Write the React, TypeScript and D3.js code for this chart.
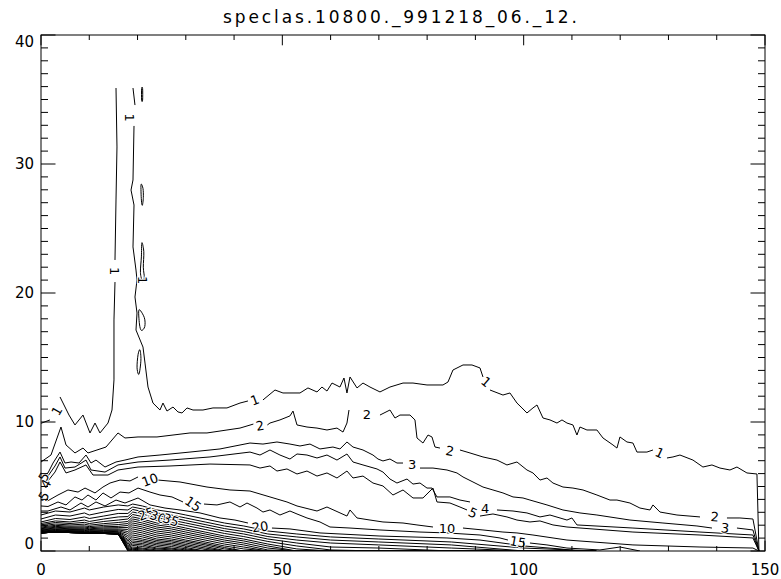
import React from 'react';
import * as d3 from 'd3';

type P = [number, number] | null;

const TITLE = 'speclas.10800._991218_06._12.';
const X_TICKS = [0, 50, 100, 150];
const Y_TICKS = [0, 10, 20, 30, 40];
const X_MINOR = d3.range(0, 151, 10);
const Y_MINOR = d3.range(0, 41, 1);

// ---- contour level 1 ----
const LEVEL1_LEFT: P[] = [
  [0, 9.9], [1.86, 10.16], null, [3.94, 11.94], [5.8, 10.54], [7.04, 9.77], [8.7, 10.54], [10.15, 9.15],
  [11.19, 9.92], [12.22, 9.15], [13.88, 9.92], [14.71, 10.93], [15.12, 13.26], [15.12, 17.91], [15.33, 20.85], null,
  [15.33, 22.56], [15.54, 27.21], [15.74, 31.32], [15.54, 35.89],
];
const LEVEL1_RIGHT: P[] = [
  [19.06, 35.89], [19.47, 34.57], null, [19.27, 32.95], [19.06, 28.76], [18.65, 27.98], [19.27, 26.82], [19.06, 23.57],
  [19.68, 21.78], [19.89, 21.01], [19.47, 19.69], [19.89, 18.45], [19.68, 17.13], [21.13, 15.81], [21.55, 14.57],
  [22.17, 12.71], [23.2, 11.47], [24.65, 10.93], [25.27, 11.47], [26.1, 10.85], [27.35, 11.16], [28.38, 10.78],
  [29.21, 10.7], [30.25, 11.09], [31.49, 10.93], [33.56, 10.93], [35.63, 11.09], [38.53, 11.09], [41.23, 11.47],
  [42.88, 11.63], null, [45.99, 11.71], [48.48, 12.48], [50.13, 12.25], [53.66, 12.25], [55.31, 12.64], [57.18, 12.33],
  [58.21, 12.71], [59.25, 12.4], [60.29, 13.02], [61.94, 12.71], [62.77, 13.41], [63.39, 12.25], [64.02, 13.49],
  [65.47, 12.64], [66.71, 13.02], [68.16, 12.71], [70.23, 12.33], [72.3, 12.71], [75.0, 13.02], [77.07, 13.02],
  [79.97, 12.87], [83.28, 12.87], [84.32, 13.1], [85.35, 14.03], [87.43, 14.42], [89.29, 14.42], [90.95, 14.19],
  [91.57, 13.49], null, [93.02, 12.48], [95.71, 12.09], [97.16, 12.25], [98.61, 11.47], [99.65, 11.09], [100.68, 10.7],
  [101.93, 11.09], [102.76, 11.32], [104.0, 10.31], [105.45, 10.16], [106.9, 9.92], [107.94, 10.16], [108.97, 9.92],
  [110.21, 9.77], [111.04, 8.99], [111.66, 9.61], [113.11, 9.38], [115.18, 9.38], [116.43, 8.76], [118.5, 8.22],
  [119.33, 7.98], [119.95, 8.84], [121.4, 8.45], [122.64, 8.37], [123.47, 7.67], [125.54, 7.67], [126.79, 7.83], null,
  [129.69, 7.21], [130.93, 7.29], [132.38, 7.44], [135.07, 7.05], [137.14, 6.51], [139.01, 6.67], [140.67, 6.43],
  [142.74, 6.28], [144.19, 6.51], [146.26, 6.05], [148.33, 5.97], [148.75, 0],
];
const ISLAND_A: [number, number][] = [[20.72, 28.4], [21.13, 28.1], [21.2, 27.4], [21.0, 26.8], [20.8, 27.2]];
const ISLAND_B: [number, number][] = [[20.9, 23.9], [21.3, 23.2], [21.2, 22.0], [21.4, 21.2], [21.0, 20.9], [20.6, 21.6], [20.8, 22.8]];
const ISLAND_C: [number, number][] = [[20.3, 18.7], [21.4, 18.1], [21.5, 17.4], [20.8, 17.1], [20.4, 17.6]];
const ISLAND_D: [number, number][] = [[20.5, 15.6], [20.7, 14.8], [20.3, 13.7], [19.9, 14.2], [20.1, 15.2]];
const ISLAND_E: [number, number][] = [[20.85, 35.85], [21.05, 35.85], [21.05, 34.95], [20.85, 34.95]];

// ---- contour level 2 ----
const LEVEL2: P[] = [
  [0, 6.9], [2.07, 7.44], [4.14, 9.61], [5.18, 8.22], [7.04, 7.6], [8.7, 7.98], [9.74, 7.6], [11.6, 7.83], [13.47, 8.06],
  [15.95, 9.15], [17.4, 8.76], [20.1, 8.84], [24.03, 8.84], [27.35, 8.99], [30.87, 9.15], [34.39, 9.15], [38.53, 9.38],
  [41.23, 9.53], [44.0, 9.84], null, [46.9, 9.77], [47.44, 9.92], [49.51, 10.16], [51.58, 10.47], [52.21, 10.85],
  [53.04, 9.77], [55.11, 9.61], [57.18, 9.53], [59.25, 9.38], [61.32, 9.53], [62.57, 9.22], [63.39, 9.92], [63.81, 10.93],
  null, [70.23, 10.54], [72.3, 10.93], [73.34, 10.31], [74.37, 10.54], [76.45, 10.54], [77.48, 10.16], [77.9, 8.76],
  [79.14, 8.37], [80.18, 8.99], [81.0, 8.84], [81.63, 8.06], [82.66, 7.98], null, [86.8, 7.83], [88.88, 7.6],
  [91.57, 7.29], [94.47, 7.05], [96.54, 6.67], [98.61, 6.9], [100.68, 6.28], [101.93, 6.05], [103.38, 5.5],
  [104.83, 5.66], [106.07, 5.27], [108.14, 4.96], [110.21, 4.88], [112.29, 4.73], [115.18, 4.34], [117.88, 3.95],
  [119.33, 3.95], [122.02, 3.72], [124.09, 3.33], [126.17, 3.18], [126.79, 3.57], [128.24, 3.02], [131.76, 2.79],
  [136.53, 2.64], null, [142.12, 2.56], [144.81, 2.56], [147.5, 2.48], [148.75, 0],
];

// ---- contour level 3 ----
const LEVEL3: P[] = [
  [0, 5.66], [1.45, 6.05], [2.49, 6.82], [3.94, 7.67], [4.97, 6.82], [6.22, 6.9], [7.87, 6.82], [9.32, 7.44],
  [10.36, 6.82], [11.39, 7.05], [13.26, 6.51], [15.54, 6.9], [17.4, 7.05], [20.1, 7.29], [24.65, 7.44], [30.87, 7.67],
  [37.08, 7.91], [43.3, 8.37], [45.99, 8.29], [48.89, 8.45], [51.58, 8.29], [53.66, 8.14], [55.73, 8.29], [57.8, 7.91],
  [60.49, 8.06], [61.94, 7.91], [63.39, 8.45], [64.64, 8.06], [66.71, 7.83], [68.78, 7.44], [69.82, 7.13],
  [70.85, 6.98], [72.3, 7.13], [73.75, 6.82], [75.0, 6.82], null, [78.52, 6.43], [81.21, 6.43], [84.11, 6.28],
  [86.18, 6.05], [87.43, 5.74], [89.5, 5.35], [91.57, 4.96], [93.64, 4.73], [95.71, 4.5], [97.79, 4.19], [99.86, 4.11],
  [101.3, 3.95], [104.83, 3.57], [108.14, 3.18], [111.66, 2.95], [115.18, 2.79], [122.02, 2.4], [128.86, 2.17],
  [135.9, 1.94], [139.01, 1.78], null, [144.19, 1.78], [147.5, 1.63], [148.75, 0],
];

// ---- contour level 4 ----
const LEVEL4: P[] = [
  [1.45, 5.81], [2.9, 6.59], [3.94, 7.29], [4.97, 6.43], [7.04, 6.51], [9.32, 7.05], [10.36, 6.28],
  [13.26, 6.12], [15.95, 6.67], [20.1, 6.9], [26.72, 7.05], [35.01, 7.29], [43.3, 7.67], [45.37, 7.44], [47.44, 7.83],
  [49.51, 7.44], [51.58, 7.13], [53.04, 7.52], [55.11, 7.44], [57.18, 7.21], [59.25, 7.44], [61.32, 7.05], [63.39, 7.52],
  [64.64, 6.9], [66.71, 6.67], [69.61, 6.36], [70.85, 6.12], [72.3, 5.58], [73.75, 5.27], [75.83, 5.58], [77.07, 5.19],
  [78.52, 5.27], [79.97, 4.88], [81.0, 4.88], [82.04, 4.19], [84.73, 4.19], [86.8, 3.95], [88.88, 3.8], null,
  [94.47, 3.18], [97.79, 3.1], [100.68, 2.95], [103.38, 2.64], [105.45, 2.79], [108.97, 2.4], [110.0, 2.56],
  [111.04, 2.02], [122.64, 1.78], [136.53, 1.47], [147.5, 1.24], [148.75, 0],
];

// ---- contour level 5 ----
const LEVEL5: P[] = [
  [1.45, 5.43], [2.9, 6.12], [3.94, 6.9], [5.18, 6.05], [7.04, 6.28], [9.32, 6.67], [10.77, 5.89], [13.88, 5.89],
  [15.95, 6.28], [20.1, 6.51], [26.72, 6.59], [35.01, 6.74], [43.3, 6.67], [45.37, 6.43], [47.44, 6.59], [48.89, 6.2],
  [50.96, 6.36], [53.04, 5.97], [55.11, 6.2], [57.18, 5.81], [59.25, 6.05], [61.32, 5.66], [63.39, 6.2], [64.64, 5.66],
  [66.71, 5.81], [68.78, 5.27], [70.85, 5.04], [72.92, 4.34], [75.0, 4.73], [77.07, 4.11], [79.14, 4.11], [81.21, 4.88],
  [82.04, 3.8], [84.73, 3.72], [86.8, 3.41], [88.26, 3.18], null, [90.95, 2.71], [93.64, 2.87], [96.54, 2.64],
  [98.61, 2.4], [101.3, 2.25], [103.38, 2.33], [106.07, 2.02], [108.97, 1.86], [122.64, 1.47], [136.53, 1.24],
  [147.5, 1.01], [148.75, 0],
];

// ---- contour level 10 ----
const LEVEL10: P[] = [
  [0, 3.95], [1.45, 3.9], [3.52, 4.34], [5.59, 4.73], [7.67, 4.57], [9.12, 4.88], [11.19, 4.5], [12.84, 4.96],
  [14.3, 5.27], [16.37, 5.5], [18.44, 5.43], [20.1, 5.74], null, [24.24, 5.5], [28.8, 5.35], [34.39, 4.96],
  [39.15, 4.73], [43.3, 4.65], [47.44, 4.19], [50.96, 3.8], [53.04, 3.49], [57.18, 3.1], [59.25, 3.41], [63.39, 2.71],
  [64.02, 3.18], [65.47, 2.56], [68.16, 2.4], [70.85, 2.25], [75.0, 2.17], [77.9, 2.02], [81.21, 1.86], null,
  [87.43, 1.78], [91.57, 1.63], [95.71, 1.47], [98.61, 1.4], [101.93, 1.24], [108.97, 0.85], [122.64, 0.47],
  [136.53, 0.31], [147.5, 0.23], [148.75, 0],
];

// ---- contour level 15 ----
const LEVEL15: P[] = [
  [0, 3.49], [1.45, 3.45], [3.52, 3.8], [5.18, 3.57], [7.04, 4.19], [8.49, 3.95], [9.74, 4.34], [11.39, 3.95],
  [12.84, 4.5], [14.5, 4.11], [16.37, 4.57], [18.23, 4.5], [20.1, 4.88], [22.58, 4.57], [24.65, 4.34], [27.14, 4.19],
  [29.42, 3.8], null, [33.77, 3.64], [36.46, 3.57], [39.15, 3.8], [41.23, 3.41], [42.68, 3.72], [44.75, 3.33],
  [45.99, 3.02], [47.44, 3.18], [49.51, 2.79], [51.58, 3.1], [53.04, 2.87], [55.11, 2.56], [57.8, 2.25], [59.87, 1.86],
  [64.02, 1.78], [70.23, 1.63], [78.52, 1.47], [84.11, 1.4], [90.95, 1.24], [95.09, 1.01], [96.75, 0.85], null,
  [101.3, 0.62], [104.83, 0.47], [108.97, 0.23], [115.8, 0.08], [119.95, 0.31], [124.09, 0],
];

// ---- contour level 20 ----
const LEVEL20: P[] = [
  [0, 3.1], [1.45, 3.1], [4.14, 3.41], [6.01, 3.18], [8.29, 3.72], [9.74, 3.41], [11.39, 3.8], [13.26, 3.49],
  [15.54, 3.95], [17.4, 3.72], [20.1, 4.11], [22.58, 3.57], [25.69, 3.33], [28.8, 3.18], [32.94, 2.95], [37.08, 2.56],
  [40.19, 2.4], [42.88, 2.17], null, [47.85, 1.78], [51.58, 1.71], [57.8, 1.4], [70.23, 1.16], [84.11, 1.01],
  [90.95, 0.85], [100.06, 0.39], [107.52, 0.16], [111.66, 0],
];

// ---- inner levels 25, 30, ... 150: heights of each level at shared x positions ----
// one column per x position; a short column repeats its last height for the remaining levels
const DENSE_LEVELS = d3.range(25, 151, 5);
const DENSE_X = [0, 3, 6, 9, 10, 13, 16, 18, 19, 21, 24, 27, 30, 34, 38, 42, 47, 53, 60, 70, 85, 100, 115];
const DENSE_COLUMNS: number[][] = [
  [2.79, 2.48, 2.25, 2.13, 2.03, 1.94, 1.86, 1.79, 1.73, 1.67, 1.63, 1.58, 1.54, 1.5, 1.47, 1.44, 1.41, 1.4],
  [3.1, 2.79, 2.52, 2.33, 2.21, 2.09, 1.99, 1.91, 1.84, 1.78, 1.72, 1.67, 1.63, 1.59, 1.55, 1.52, 1.49, 1.47],
  [3.02, 2.71, 2.44, 2.25, 2.13, 2.02, 1.92, 1.84, 1.78, 1.72, 1.67, 1.62, 1.58, 1.54, 1.51, 1.48, 1.46, 1.43],
  [3.33, 2.95, 2.64, 2.4, 2.22, 2.08, 1.95, 1.86, 1.78, 1.71, 1.65, 1.6, 1.55, 1.51, 1.47, 1.44, 1.41, 1.4],
  [3.18, 2.79, 2.52, 2.29, 2.13, 2.0, 1.89, 1.8, 1.72, 1.66, 1.6, 1.55, 1.5, 1.47, 1.43, 1.4, 1.38, 1.36],
  [3.41, 3.02, 2.71, 2.48, 2.29, 2.12, 1.99, 1.88, 1.79, 1.71, 1.64, 1.58, 1.53, 1.48, 1.44, 1.41, 1.38, 1.36],
  [3.57, 3.22, 2.91, 2.64, 2.4, 2.21, 2.05, 1.91, 1.81, 1.71, 1.64, 1.57, 1.5, 1.45, 1.4, 1.36, 1.33, 1.32],
  [3.49, 3.18, 2.91, 2.67, 2.48, 2.29, 2.13, 1.98, 1.82, 1.67, 1.51, 1.36, 1.2, 1.05, 0.89, 0.78, 0.66, 0.54, 0.43, 0.35, 0.27, 0.19, 0.13, 0.08, 0.04, 0],
  [3.64, 3.41, 3.22, 3.02, 2.83, 2.64, 2.48, 2.33, 2.17, 2.02, 1.86, 1.71, 1.55, 1.4, 1.24, 1.09, 0.93, 0.78, 0.66, 0.54, 0.43, 0.31, 0.21, 0.13, 0.06, 0],
  [3.49, 3.26, 3.06, 2.87, 2.67, 2.48, 2.33, 2.17, 2.02, 1.86, 1.71, 1.55, 1.4, 1.24, 1.09, 0.93, 0.81, 0.7, 0.58, 0.47, 0.35, 0.23, 0.16, 0.08, 0],
  [3.18, 2.95, 2.75, 2.56, 2.36, 2.17, 2.02, 1.86, 1.71, 1.55, 1.4, 1.24, 1.09, 0.93, 0.81, 0.7, 0.58, 0.47, 0.35, 0.23, 0.16, 0.08, 0],
  [3.02, 2.79, 2.6, 2.4, 2.21, 2.02, 1.86, 1.71, 1.55, 1.4, 1.24, 1.09, 0.93, 0.81, 0.7, 0.58, 0.47, 0.35, 0.23, 0.16, 0.08, 0],
  [2.79, 2.56, 2.36, 2.17, 1.98, 1.78, 1.63, 1.47, 1.32, 1.16, 1.01, 0.85, 0.74, 0.62, 0.5, 0.39, 0.27, 0.16, 0.08, 0],
  [2.48, 2.25, 2.05, 1.86, 1.67, 1.47, 1.32, 1.16, 1.01, 0.85, 0.7, 0.58, 0.47, 0.35, 0.23, 0.12, 0],
  [2.17, 1.94, 1.74, 1.55, 1.36, 1.16, 1.01, 0.85, 0.7, 0.54, 0.39, 0.27, 0.16, 0.04, 0],
  [1.94, 1.71, 1.51, 1.32, 1.12, 0.93, 0.78, 0.62, 0.47, 0.31, 0.16, 0],
  [1.55, 1.32, 1.12, 0.93, 0.74, 0.54, 0.39, 0.23, 0.08, 0],
  [1.32, 1.09, 0.85, 0.62, 0.39, 0.16, 0],
  [1.09, 0.85, 0.62, 0.31, 0.08, 0],
  [0.93, 0.7, 0.47, 0.23, 0],
  [0.7, 0.47, 0.23, 0],
  [0.23, 0],
  [0],
];

// ---- contour labels: text, x, y (data units), angle ----
const LABEL_TEXT = ['1', '1', '1', '1', '1', '1', '1', '2', '2', '2', '2', '3', '3', '4', '5', '5', '4', '5', '10', '10', '15', '15', '20', '25', '30', '35'];
const LABEL_X = [3.3, 15.3, 18.4, 21.1, 44.3, 92.2, 128.2, 45.4, 67.5, 84.7, 139.6, 76.9, 141.7, 92.0, 89.5, 0.6, 1.0, 0.6, 22.6, 84.1, 31.5, 98.8, 45.4, 21.8, 24.2, 26.9];
const LABEL_Y = [10.85, 21.7, 33.6, 21.0, 11.7, 13.1, 7.6, 9.7, 10.6, 7.75, 2.64, 6.74, 1.78, 3.26, 2.95, 5.74, 5.2, 4.26, 5.5, 1.78, 3.64, 0.7, 1.86, 2.87, 2.64, 2.4];
const LABEL_ANGLE = [-60, 90, 90, 90, -20, 40, 25, -10, 0, 10, 5, 0, 5, 0, 25, -60, -60, -60, -20, 0, 35, 10, -8, -20, 20, 20];

const W = 781;
const H = 579;
const FONT = 'DejaVu Sans, sans-serif';

export default function App() {
  const x = d3.scaleLinear().domain([0, 150]).range([41, 765]);
  const y = d3.scaleLinear().domain([0, 40]).range([551, 35]);
  const [x0, x1] = x.range();
  const [y0, y1] = y.range();

  const line = d3
    .line<P>()
    .defined((d) => d !== null)
    .x((d) => x((d as [number, number])[0]))
    .y((d) => y((d as [number, number])[1]));
  const loop = d3
    .line<[number, number]>()
    .x((d) => x(d[0]))
    .y((d) => y(d[1]))
    .curve(d3.curveCardinalClosed);

  const openLines: P[][] = [LEVEL1_LEFT, LEVEL1_RIGHT, LEVEL2, LEVEL3, LEVEL4, LEVEL5, LEVEL10, LEVEL15, LEVEL20];
  const denseLines: P[][] = DENSE_LEVELS.map((_, li) =>
    DENSE_X.map((xv, ci) => {
      const col = DENSE_COLUMNS[ci];
      const v = li < col.length ? col[li] : col[col.length - 1];
      return [xv, v] as [number, number];
    })
  );
  const islands = [ISLAND_A, ISLAND_B, ISLAND_C, ISLAND_D, ISLAND_E];

  const yMaj = 14.5;
  const yMin = 7;
  const xMaj = 10.3;
  const xMin = 5;

  return (
    <svg width={W} height={H} style={{ position: 'absolute', left: 0, top: 0, background: '#fff' }}>
      <rect x={0} y={0} width={W} height={H} fill="#fff" />
      <defs>
        <clipPath id="plotclip">
          <rect x={x0} y={y1} width={x1 - x0} height={y0 - y1} />
        </clipPath>
      </defs>
      <text x={400} y={23} textAnchor="middle" fontFamily={FONT} fontSize={17} textLength={354} lengthAdjust="spacing" fill="#000">
        {TITLE}
      </text>
      <g clipPath="url(#plotclip)" fill="none" stroke="#000" strokeWidth={1} strokeLinejoin="round">
        {openLines.map((l, i) => (
          <path key={'o' + i} d={line(l) || ''} />
        ))}
        {denseLines.map((l, i) => (
          <path key={'d' + i} d={line(l) || ''} />
        ))}
        {islands.map((l, i) => (
          <path key={'i' + i} d={loop(l) || ''} />
        ))}
      </g>
      <g fontFamily={FONT} fontSize={13} fill="#000">
        {LABEL_TEXT.map((t, i) => (
          <text
            key={'l' + i}
            x={x(LABEL_X[i])}
            y={y(LABEL_Y[i])}
            textAnchor="middle"
            dominantBaseline="central"
            transform={`rotate(${LABEL_ANGLE[i]} ${x(LABEL_X[i])} ${y(LABEL_Y[i])})`}
            stroke="#fff"
            strokeWidth={2}
            paintOrder="stroke"
          >
            {t}
          </text>
        ))}
      </g>
      <rect x={x0} y={y1} width={x1 - x0} height={y0 - y1} fill="none" stroke="#000" strokeWidth={1} />
      <g stroke="#000" strokeWidth={1}>
        {X_MINOR.map((v) => {
          const len = X_TICKS.includes(v) ? xMaj : xMin;
          return (
            <g key={'xt' + v}>
              <line x1={x(v)} x2={x(v)} y1={y0} y2={y0 - len} />
              <line x1={x(v)} x2={x(v)} y1={y1} y2={y1 + len} />
            </g>
          );
        })}
        {Y_MINOR.map((v) => {
          const len = Y_TICKS.includes(v) ? yMaj : yMin;
          return (
            <g key={'yt' + v}>
              <line x1={x0} x2={x0 + len} y1={y(v)} y2={y(v)} />
              <line x1={x1} x2={x1 - len} y1={y(v)} y2={y(v)} />
            </g>
          );
        })}
      </g>
      <g fontFamily={FONT} fontSize={15} fill="#000">
        {X_TICKS.map((v) => (
          <text key={'xl' + v} x={x(v)} y={575} textAnchor="middle">
            {v}
          </text>
        ))}
        {Y_TICKS.map((v) => (
          <text
            key={'yl' + v}
            x={34}
            y={Math.min(Math.max(y(v), y1 + 7), y0 - 7)}
            textAnchor="end"
            dominantBaseline="central"
          >
            {v}
          </text>
        ))}
      </g>
    </svg>
  );
}
